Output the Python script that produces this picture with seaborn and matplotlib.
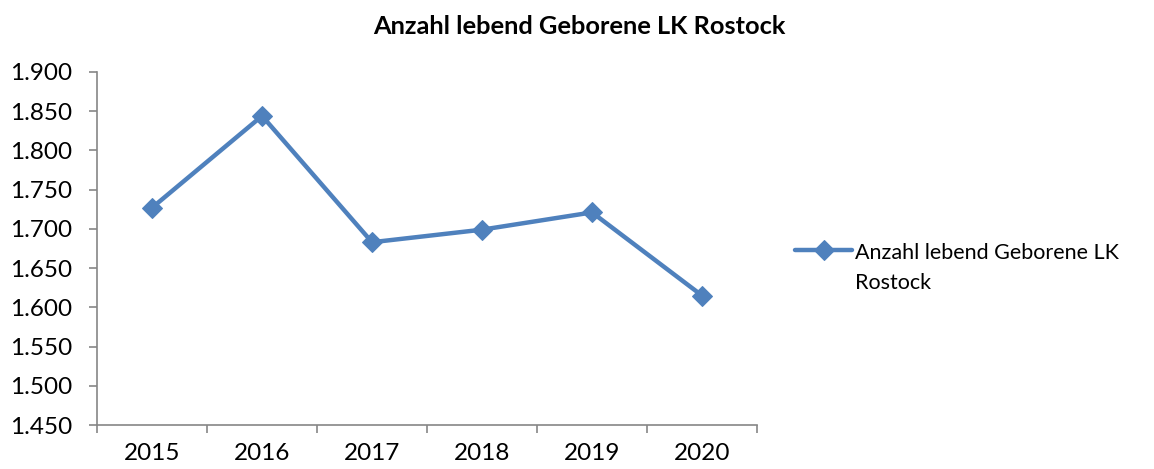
import matplotlib
matplotlib.use("Agg")
import matplotlib.pyplot as plt
import matplotlib.ticker as mticker
import seaborn as sns
import pandas as pd

# Daten
jahre = ["2015", "2016", "2017", "2018", "2019", "2020"]
geborene = [1727, 1844, 1683, 1699, 1721, 1615]
serie = "Anzahl lebend Geborene LK\nRostock"
titel = "Anzahl lebend Geborene LK Rostock"

df = pd.DataFrame({"jahr": jahre, "anzahl": geborene})

sns.set_style("white")
plt.rcParams["font.family"] = ["Lato", "DejaVu Sans"]
plt.rcParams["text.color"] = "black"
plt.rcParams["xtick.labelcolor"] = "black"
plt.rcParams["ytick.labelcolor"] = "black"

fig = plt.figure(figsize=(11.54, 4.69), dpi=100)
ax = fig.add_axes([0.0841, 0.0938, 0.5719, 0.7527])

blau = "#4F81BD"
grau = "#868686"
sns.lineplot(data=df, x="jahr", y="anzahl", ax=ax, color=blau, linewidth=3.2,
             marker="D", markersize=10, markeredgecolor=blau, label=serie, sort=False)

ax.set_ylim(1450, 1900)
ax.set_xlim(-0.5, len(jahre) - 0.5)
ax.yaxis.set_major_locator(mticker.MultipleLocator(50))
ax.yaxis.set_major_formatter(mticker.FuncFormatter(lambda v, p: f"{int(v):,}".replace(",", ".")))

# Excel-Stil: Striche zwischen den Kategorien
ax.set_xticks(range(len(jahre)))
ax.set_xticks([i - 0.5 for i in range(len(jahre) + 1)], minor=True)
ax.tick_params(axis="x", which="major", length=0, pad=13, labelsize=17.5, labelcolor="black")
ax.tick_params(axis="x", which="minor", length=6, width=1.2, color=grau, direction="out", bottom=True)
ax.tick_params(axis="y", which="major", length=6, width=1.2, color=grau, direction="out", left=True,
               pad=12, labelsize=17.5, labelcolor="black")

for s in ["top", "right"]:
    ax.spines[s].set_visible(False)
for s in ["left", "bottom"]:
    ax.spines[s].set_color(grau)
    ax.spines[s].set_linewidth(1.2)

ax.set_xlabel("")
ax.set_ylabel("")

fig.text(0.502, 1 - 27 / 469, titel, ha="center", va="center", fontsize=18.3, fontweight="bold", color="black")

leg = ax.legend(loc="upper left", bbox_to_anchor=(0.689, 0.482), bbox_transform=fig.transFigure,
                frameon=False, fontsize=15.5, handlelength=2.65, handletextpad=0.15,
                borderpad=0, borderaxespad=0)
for t in leg.get_texts():
    t.set_linespacing(1.6)
    t.set_color("black")
# Symbol an der ersten Textzeile ausrichten
try:
    for col in leg._legend_handle_box.get_children():
        for zeile in col.get_children():
            zeile.align = "top"
except AttributeError:
    pass

fig.savefig("out.png", dpi=100)
